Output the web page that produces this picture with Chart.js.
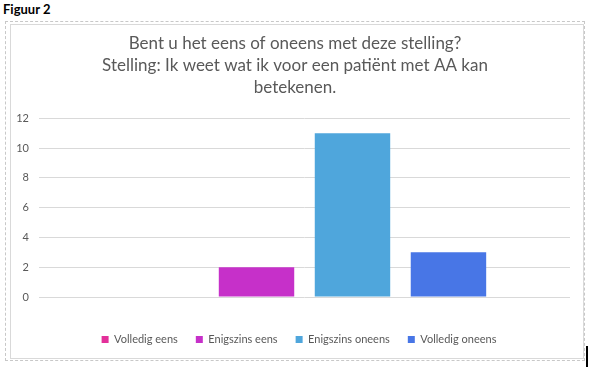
<!DOCTYPE html>
<html>
<head>
<meta charset="utf-8">
<script src="https://cdn.jsdelivr.net/npm/chart.js@4.4.1/dist/chart.umd.min.js"></script>
<style>
  html, body { margin:0; padding:0; background:#fff; }
  body { width:592px; height:367px; position:relative; overflow:hidden; font-family:Lato, 'Open Sans', sans-serif; }
  #fig { position:absolute; left:3px; top:1px; font-weight:bold; font-size:13px; color:#000; }
  #outer { position:absolute; left:5px; top:21px; width:580px; height:340px; border:1px dashed #c8c8c8; box-sizing:border-box; }
  #inner { position:absolute; left:10px; top:24px; width:574px; height:335px; border:1px solid #d9d9d9; box-sizing:border-box; }
  #cursor { position:absolute; left:586px; top:346px; width:2px; height:21px; background:#000; }
  #wrap { position:absolute; left:0; top:0; width:592px; height:367px; }
</style>
</head>
<body>
<div id="fig">Figuur 2</div>
<div id="outer"></div>
<div id="inner"></div>
<div id="cursor"></div>
<div id="wrap"><canvas id="chart" width="592" height="367"></canvas></div>
<script>
const titleLines = ['Bent u het eens of oneens met deze stelling?', 'Stelling: Ik weet wat ik voor een patiënt met AA kan', 'betekenen.'];
const seriesNames = ['Volledig eens', 'Enigszins eens', 'Enigszins oneens', 'Volledig oneens'];
const seriesValues = [0, 2, 11, 3];
const seriesColors = ['#e3309a', '#c630c9', '#4fa6dc', '#4876e6'];
const yTicks = [0, 2, 4, 6, 8, 10, 12];

const grey = '#595959';

const datasets = seriesNames.map((name, i) => ({
  label: name,
  data: [seriesValues[i]],
  backgroundColor: seriesColors[i],
  borderWidth: 0,
  categoryPercentage: 0.723,
  barPercentage: 0.786
}));

// title and legend in the original sit a bit right of the plot centre
const nudge = {
  id: 'nudge',
  afterLayout(chart) {
    chart.legend.left += 9; chart.legend.right += 9;
    chart.titleBlock.left += 5; chart.titleBlock.right += 5;
  }
};

new Chart(document.getElementById('chart'), {
  type: 'bar',
  data: { labels: [''], datasets },
  plugins: [nudge],
  options: {
    responsive: false,
    animation: false,
    layout: { padding: { left: 10, right: 22, top: 20, bottom: 12 } },
    plugins: {
      title: {
        display: true,
        text: titleLines,
        color: grey,
        font: { family: 'Lato', size: 17, weight: 'normal', lineHeight: 1.3 },
        padding: { top: 12, bottom: 20 }
      },
      legend: {
        position: 'bottom',
        labels: {
          color: grey,
          font: { family: 'Lato', size: 11 },
          boxWidth: 7,
          boxHeight: 7,
          padding: 18
        }
      },
      tooltip: { enabled: false }
    },
    scales: {
      x: {
        border: { display: false },
        grid: { display: false },
        ticks: { display: false },
        afterFit: s => { s.height = 19; }
      },
      y: {
        min: 0,
        max: 12,
        afterBuildTicks: s => { s.ticks = yTicks.map(v => ({ value: v })); },
        afterFit: s => { s.width = 29; },
        border: { display: false },
        grid: { color: '#d9d9d9', drawTicks: false },
        ticks: { color: grey, font: { family: 'Lato', size: 11 }, padding: 10 }
      }
    }
  }
});
</script>
</body>
</html>
